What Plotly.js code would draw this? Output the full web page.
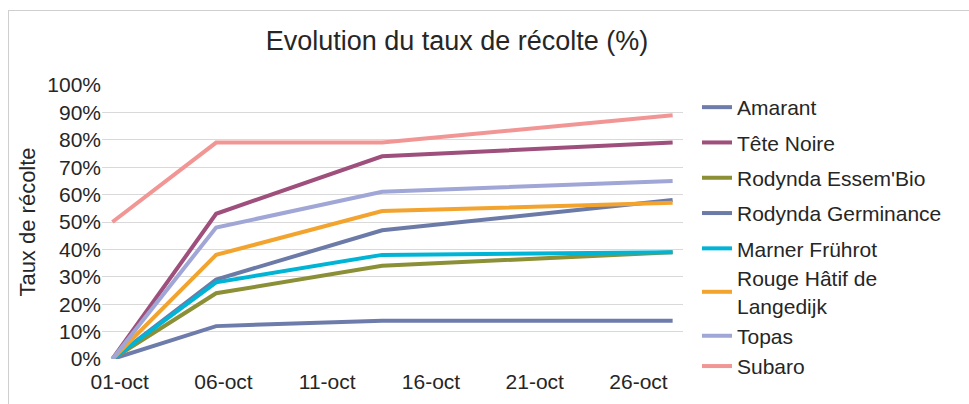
<!DOCTYPE html>
<html>
<head>
<meta charset="utf-8">
<script src="https://cdn.plot.ly/plotly-3.0.1.min.js"></script>
<style>
  html, body { margin: 0; padding: 0; background: #fff; }
  #wrap { position: relative; width: 969px; height: 404px; overflow: hidden; }
  #chart { position: absolute; left: 0; top: 0; width: 969px; height: 404px; }
  #frame { position: absolute; left: 8px; top: 10px; width: 980px; height: 420px;
           border-top: 1px solid #cfcfcf; border-left: 1px solid #cfcfcf; pointer-events: none; }
</style>
</head>
<body>
<div id="wrap">
  <div id="chart"></div>
  <div id="frame"></div>
</div>
<script>
// Dates of observation
const dates = ['2024-10-01', '2024-10-06', '2024-10-14', '2024-10-28'];

// Harvest rate per variety (fraction)
const amarant      = [0.00, 0.12, 0.14, 0.14];
const teteNoire    = [0.00, 0.53, 0.74, 0.79];
const essemBio     = [0.00, 0.24, 0.34, 0.39];
const germinance   = [0.00, 0.29, 0.47, 0.58];
const marner       = [0.00, 0.28, 0.38, 0.39];
const rougeHatif   = [0.00, 0.38, 0.54, 0.57];
const topas        = [0.00, 0.48, 0.61, 0.65];
const subaro       = [0.50, 0.79, 0.79, 0.89];

const names = ['Amarant', 'Tête Noire', "Rodynda Essem'Bio", 'Rodynda Germinance',
               'Marner Frührot', 'Rouge Hâtif de<br>Langedijk', 'Topas', 'Subaro'];
const seriesValues = [amarant, teteNoire, essemBio, germinance, marner, rougeHatif, topas, subaro];
const colors = ['#6e7cab', '#9e4f7b', '#8b8f36', '#6c7aa8', '#00b4d6', '#f2a42e', '#a0a6d6', '#f19694'];

// Axis ticks
const tickDates = ['2024-10-01', '2024-10-06', '2024-10-11', '2024-10-16', '2024-10-21', '2024-10-26'];
const tickLabels = ['01-oct', '06-oct', '11-oct', '16-oct', '21-oct', '26-oct'];
const yTicks = [0, 0.1, 0.2, 0.3, 0.4, 0.5, 0.6, 0.7, 0.8, 0.9, 1.0];

const traces = seriesValues.map((vals, i) => ({
  type: 'scatter',
  mode: 'lines',
  x: dates,
  y: vals,
  name: names[i],
  legend: i < 5 ? 'legend' : 'legend2',
  legendgroup: 'g' + i,
  line: { color: colors[i], width: 4 },
  hoverinfo: 'skip'
}));

const font = 'Liberation Sans, Arial, sans-serif';
const legendFont = { family: font, size: 21, color: '#262626' };
const legendX = (697 - 102) / 581;
const layout = {
  width: 969,
  height: 404,
  margin: { l: 102, r: 286, t: 85, b: 45, autoexpand: false },
  paper_bgcolor: 'rgba(0,0,0,0)',
  plot_bgcolor: 'rgba(0,0,0,0)',
  font: { family: font, color: '#262626', size: 21 },
  title: {
    text: 'Evolution du taux de récolte (%)',
    font: { family: font, size: 27, color: '#262626' },
    x: 457 / 969, xref: 'container', xanchor: 'center',
    y: 1 - 41 / 404, yref: 'container', yanchor: 'middle'
  },
  xaxis: {
    type: 'date',
    range: ['2024-09-30 12:00', '2024-10-28 12:00'],
    tickmode: 'array',
    tickvals: tickDates.map(d => d + ' 08:30'),
    ticktext: tickLabels,
    showgrid: false,
    zeroline: false,
    showline: false,
    ticks: '',
    ticklabelstandoff: 8,
    tickfont: { family: font, size: 21, color: '#262626' }
  },
  yaxis: {
    range: [0, 1],
    tickmode: 'array',
    tickvals: yTicks,
    tickformat: '.0%',
    showgrid: true,
    gridcolor: '#d9d9d9',
    gridwidth: 1,
    zeroline: false,
    showline: false,
    ticks: '',
    tickfont: { family: font, size: 21, color: '#262626' },
    title: { text: 'Taux de récolte', font: { family: font, size: 22, color: '#262626' }, standoff: 5 }
  },
  legend: {
    x: legendX,
    xanchor: 'left',
    y: (359 - 87) / 274,
    yanchor: 'top',
    font: legendFont,
    tracegroupgap: 5,
    bgcolor: 'rgba(0,0,0,0)'
  },
  legend2: {
    x: legendX,
    xanchor: 'left',
    y: (359 - 258) / 274,
    yanchor: 'top',
    font: legendFont,
    tracegroupgap: 0,
    bgcolor: 'rgba(0,0,0,0)'
  },
  showlegend: true
};

Plotly.newPlot('chart', traces, layout, { staticPlot: true, displayModeBar: false });
</script>
</body>
</html>
